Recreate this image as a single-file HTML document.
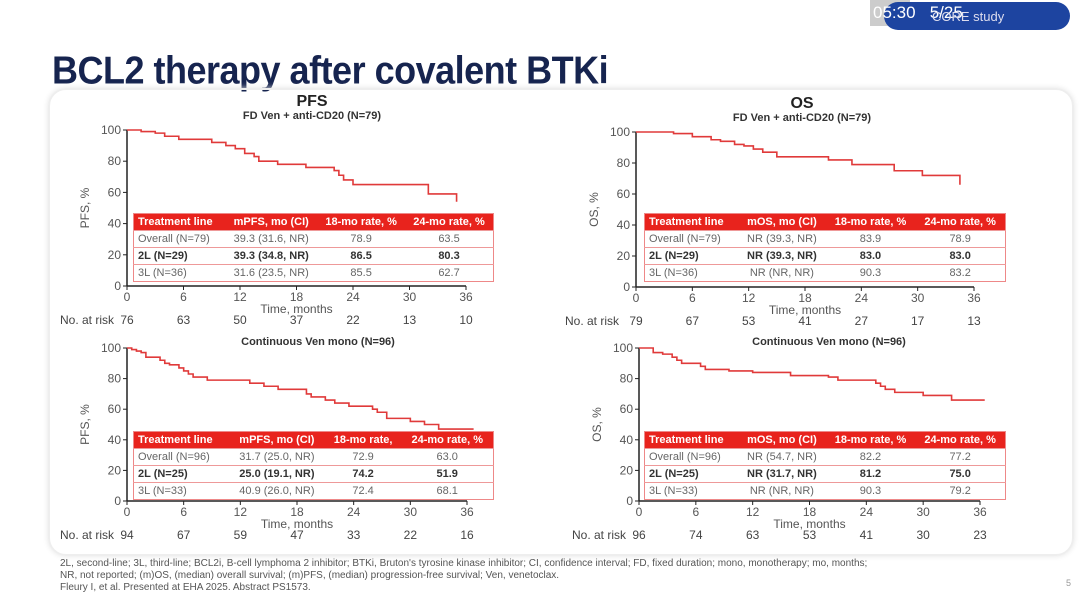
<!DOCTYPE html>
<html><head><meta charset="utf-8">
<style>
body{margin:0;width:1080px;height:596px;overflow:hidden;background:#fff;font-family:"Liberation Sans",sans-serif;position:relative}
.abs{position:absolute}
table.t{position:absolute;border-collapse:collapse;font-size:11px;color:#666;background:#fff;border:1px solid #e88}
table.t th{background:#e8231d;color:#fff;font-weight:bold;height:16px;padding:0 4px;text-align:center}
table.t td{height:16px;padding:0 4px;text-align:center;border-top:1px solid #e99}
table.t td:first-child,table.t th:first-child{text-align:left}
table.t tr.b td{font-weight:bold;color:#333}
</style></head><body>
<div class="abs" style="left:870px;top:0;width:40px;height:26px;background:#ccc"></div>
<div class="abs" style="left:884px;top:2px;width:186px;height:28px;background:#1d44a0;border-radius:14px"></div>
<div class="abs" style="left:873px;top:3px;color:#fff;font-size:17px">05:30 &nbsp;&nbsp;5/25</div>
<div class="abs" style="left:932px;top:9px;color:#dde;font-size:13px">CORE study</div>
<div class="abs" style="left:52px;top:48px;font-family:'Liberation Sans Narrow','Liberation Sans',sans-serif;font-weight:bold;font-size:36px;color:#16244f;letter-spacing:-0.5px;transform:scaleY(1.08);transform-origin:left top">BCL2 therapy after covalent BTKi</div>
<div class="abs" style="left:48px;top:88px;width:1022px;height:464px;border:2px solid #eee;border-radius:18px;box-shadow:0 0 6px #e4e4e4"></div>
<svg class="abs" style="left:0;top:0" width="1080" height="596" id="svg"></svg>

<table class="t" style="left:133px;top:213px;width:361px">
<tr><th>Treatment line</th><th>mPFS, mo (CI)</th><th>18-mo rate, %</th><th>24-mo rate, %</th></tr>
<tr><td>Overall (N=79)</td><td>39.3 (31.6, NR)</td><td>78.9</td><td>63.5</td></tr>
<tr class="b"><td>2L (N=29)</td><td>39.3 (34.8, NR)</td><td>86.5</td><td>80.3</td></tr>
<tr><td>3L (N=36)</td><td>31.6 (23.5, NR)</td><td>85.5</td><td>62.7</td></tr></table>
<table class="t" style="left:644px;top:213px;width:362px">
<tr><th>Treatment line</th><th>mOS, mo (CI)</th><th>18-mo rate, %</th><th>24-mo rate, %</th></tr>
<tr><td>Overall (N=79)</td><td>NR (39.3, NR)</td><td>83.9</td><td>78.9</td></tr>
<tr class="b"><td>2L (N=29)</td><td>NR (39.3, NR)</td><td>83.0</td><td>83.0</td></tr>
<tr><td>3L (N=36)</td><td>NR (NR, NR)</td><td>90.3</td><td>83.2</td></tr></table>
<table class="t" style="left:133px;top:431px;width:361px">
<tr><th>Treatment line</th><th>mPFS, mo (CI)</th><th>18-mo rate,</th><th>24-mo rate, %</th></tr>
<tr><td>Overall (N=96)</td><td>31.7 (25.0, NR)</td><td>72.9</td><td>63.0</td></tr>
<tr class="b"><td>2L (N=25)</td><td>25.0 (19.1, NR)</td><td>74.2</td><td>51.9</td></tr>
<tr><td>3L (N=33)</td><td>40.9 (26.0, NR)</td><td>72.4</td><td>68.1</td></tr></table>
<table class="t" style="left:644px;top:431px;width:362px">
<tr><th>Treatment line</th><th>mOS, mo (CI)</th><th>18-mo rate, %</th><th>24-mo rate, %</th></tr>
<tr><td>Overall (N=96)</td><td>NR (54.7, NR)</td><td>82.2</td><td>77.2</td></tr>
<tr class="b"><td>2L (N=25)</td><td>NR (31.7, NR)</td><td>81.2</td><td>75.0</td></tr>
<tr><td>3L (N=33)</td><td>NR (NR, NR)</td><td>90.3</td><td>79.2</td></tr></table>

<div class="abs" style="left:60px;top:558px;font-size:10px;line-height:12px;color:#555;font-family:'Liberation Sans Narrow','Liberation Sans',sans-serif">2L, second-line; 3L, third-line; BCL2i, B-cell lymphoma 2 inhibitor; BTKi, Bruton's tyrosine kinase inhibitor; CI, confidence interval; FD, fixed duration; mono, monotherapy; mo, months;<br>NR, not reported; (m)OS, (median) overall survival; (m)PFS, (median) progression-free survival; Ven, venetoclax.<br>Fleury I, et al. Presented at EHA 2025. Abstract PS1573.</div>
<div class="abs" style="left:1066px;top:578px;font-size:9px;color:#999">5</div>

<script>
const xTicks=[0,6,12,18,24,30,36];
const yTicks=[0,20,40,60,80,100];
const pfsFdTimes=[0,1.5,3,4,5.5,9,10.5,11.5,12.5,13.5,14,16,19,22,22.5,23,24,32,35];
const pfsFdVals=[100,99,98,96,94,92,90,88,85,83,80,78,76,74,71,68,65,59,54];
const osFdTimes=[0,4,6,8,9,10.5,11.5,12.5,13.5,15,20.5,23,27.5,30.5,34.5];
const osFdVals=[100,99,97,95,94,92,91,89,87,84,82,79,75,72,66];
const pfsMonoTimes=[0,0.5,1,1.5,2,3.5,4,4.5,5.5,6,6.5,7,8.5,13,14.5,16,19,19.5,21,22,23.5,26,26.5,27.5,30,31.5,33,36.7];
const pfsMonoVals=[100,99,98,97,94,92,90,89,87,85,83,81,79,77,75,73,70,68,66,64,62,60,58,54,52,50,47,47];
const osMonoTimes=[0,1.5,2.5,3.5,4,4.5,6.5,7,9.5,12,16,20,21,25,25.5,26,27,30,33,36.5];
const osMonoVals=[100,97,96,94,92,90,88,86,85,84,82,81,79,77,75,73,71,69,66,66];
const pfsFdRisk=[76,63,50,37,22,13,10];
const osFdRisk=[79,67,53,41,27,17,13];
const pfsMonoRisk=[94,67,59,47,33,22,16];
const osMonoRisk=[96,74,63,53,41,30,23];

const NS='http://www.w3.org/2000/svg';
const svg=document.getElementById('svg');
function mk(tag,attrs,txt){const e=document.createElementNS(NS,tag);for(const k in attrs)e.setAttribute(k,attrs[k]);if(txt!==undefined)e.textContent=txt;svg.appendChild(e);return e;}
function panel(p){
  const sx=t=>p.x0+(p.x1-p.x0)*t/36;
  const Y=v=>p.y0-(p.y0-p.y100)*v/100;
  let a=mk('line',{x1:p.x0,y1:p.y100,x2:p.x0,y2:p.y0,stroke:'#222','stroke-width':1.5});
  
  a=mk('line',{x1:p.x0,y1:p.y0,x2:p.x1,y2:p.y0,stroke:'#222','stroke-width':1.5});
  
  yTicks.forEach(v=>{mk('line',{x1:p.x0-4,x2:p.x0,y1:Y(v),y2:Y(v),stroke:'#222'});
    const t=mk('text',{x:p.x0-6,y:Y(v)+4,'text-anchor':'end','font-size':12,fill:'#555'},v);
    });
  xTicks.forEach((v,i)=>{mk('line',{x1:sx(v),x2:sx(v),y1:p.y0,y2:p.y0+4,stroke:'#222'});
    let t=mk('text',{x:sx(v),y:p.y0+15,'text-anchor':'middle','font-size':12,fill:'#555'},v);
    
    t=mk('text',{x:sx(v),y:p.y0+38,'text-anchor':'middle','font-size':12,fill:'#444'},p.risk[i]);
    });
  let t=mk('text',{x:p.riskX,y:p.y0+38,'font-size':12,fill:'#444'},'No. at risk');
  
  t=mk('text',{x:(p.x0+p.x1)/2,y:p.y0+27,'text-anchor':'middle','font-size':12,fill:'#555'},'Time, months');
  
  const cy=(p.y0+p.y100)/2;
  t=mk('text',{x:p.x0-38,y:cy,'text-anchor':'middle','font-size':12,fill:'#555',transform:`rotate(-90 ${p.x0-38} ${cy})`},p.ylab);
  
  t=mk('text',{x:p.subX,y:p.y100+p.subDy,'text-anchor':'middle','font-size':11,'font-weight':'bold',fill:'#333'},p.sub);
  
  if(p.title){t=mk('text',{x:p.subX,y:p.y100-24,'text-anchor':'middle','font-size':16,'font-weight':'bold',fill:'#222'},p.title);
    }
  let d='M'+sx(p.t[0])+','+Y(p.v[0]);
  for(let i=1;i<p.t.length;i++){d+=' H'+sx(p.t[i])+' V'+Y(p.v[i]);}
  const path=mk('path',{d:d,fill:'none',stroke:'#e03a3a','stroke-width':1.6});
  
}
panel({id:'pfs-fd',x0:127,x1:466,y100:130,y0:286,t:pfsFdTimes,v:pfsFdVals,risk:pfsFdRisk,riskX:60,ylab:'PFS, %',sub:'FD Ven + anti-CD20 (N=79)',title:'PFS',subX:312,subDy:-11});
panel({id:'os-fd',x0:636,x1:974,y100:132,y0:287,t:osFdTimes,v:osFdVals,risk:osFdRisk,riskX:565,ylab:'OS, %',sub:'FD Ven + anti-CD20 (N=79)',title:'OS',subX:802,subDy:-11});
panel({id:'pfs-mono',x0:127,x1:467,y100:348,y0:501,t:pfsMonoTimes,v:pfsMonoVals,risk:pfsMonoRisk,riskX:60,ylab:'PFS, %',sub:'Continuous Ven mono (N=96)',subX:318,subDy:-3});
panel({id:'os-mono',x0:639,x1:980,y100:348,y0:501,t:osMonoTimes,v:osMonoVals,risk:osMonoRisk,riskX:572,ylab:'OS, %',sub:'Continuous Ven mono (N=96)',subX:829,subDy:-3});
</script>
</body></html>
